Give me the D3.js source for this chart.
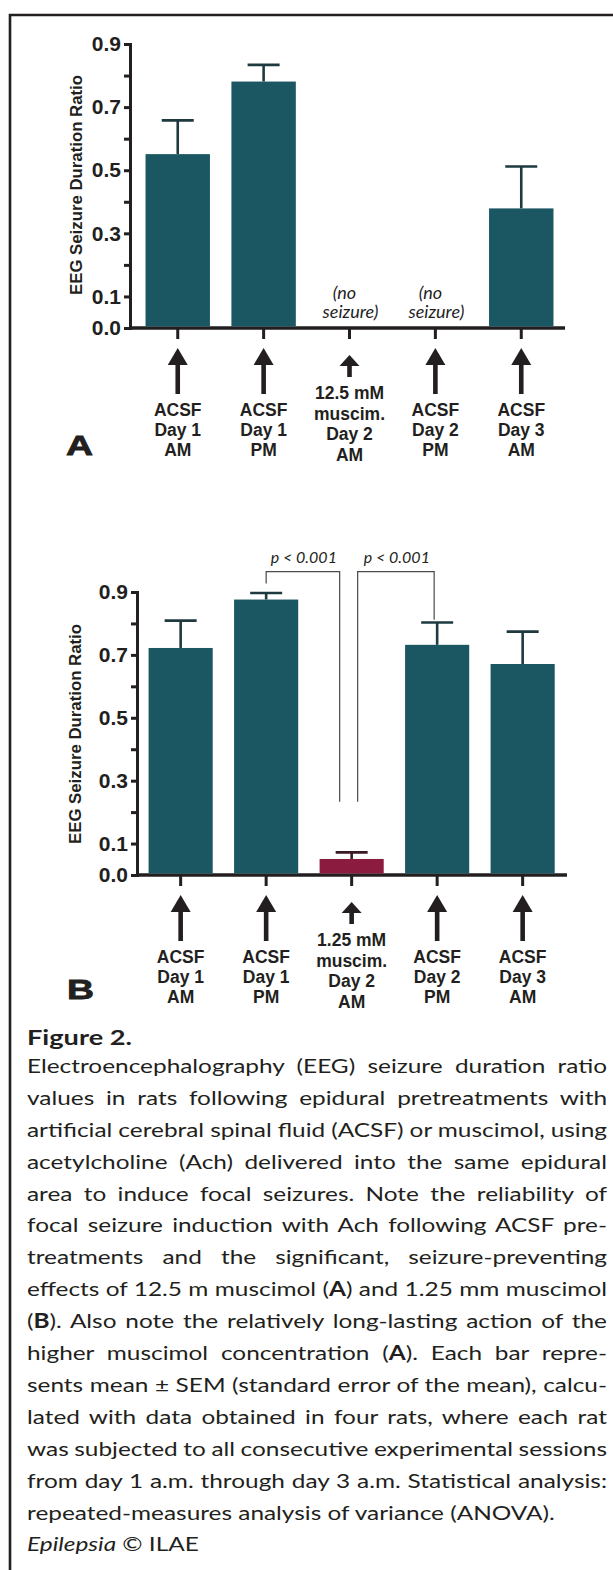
<!DOCTYPE html>
<html>
<head>
<meta charset="utf-8">
<script src="https://cdn.jsdelivr.net/npm/d3@7"></script>
<style>
  html, body { margin: 0; padding: 0; background: #fff; }
  svg { display: block; }
</style>
</head>
<body>
<svg id="fig" width="613" height="1570"></svg>
<script>
// ---- data ----
const sessionLabelsA = [
  ["ACSF", "Day 1", "AM"],
  ["ACSF", "Day 1", "PM"],
  ["12.5 mM", "muscim.", "Day 2", "AM"],
  ["ACSF", "Day 2", "PM"],
  ["ACSF", "Day 3", "AM"]
];
const sessionLabelsB = [
  ["ACSF", "Day 1", "AM"],
  ["ACSF", "Day 1", "PM"],
  ["1.25 mM", "muscim.", "Day 2", "AM"],
  ["ACSF", "Day 2", "PM"],
  ["ACSF", "Day 3", "AM"]
];
const muscimolSession = 2;

// mean and SEM (null = no seizure)
const meanA = [0.551, 0.781, null, null, 0.379];
const semA  = [0.107, 0.053, null, null, 0.133];
const meanB = [0.722, 0.876, 0.051, 0.732, 0.671];
const semB  = [0.087, 0.021, 0.021, 0.071, 0.103];

const yTickValues = [0, 0.1, 0.2, 0.3, 0.4, 0.5, 0.6, 0.7, 0.8, 0.9];
const yTickLabels = ["0.0", "0.1", "", "0.3", "", "0.5", "", "0.7", "", "0.9"];

// significance brackets in panel B
const comparisonsB = [
  { from: 1, to: 2, label: "p < 0.001" },
  { from: 2, to: 3, label: "p < 0.001" }
];

const yLabel = "EEG Seizure Duration Ratio";
const noSeizureText = ["(no", "seizure)"];

const captionTitle = "Figure 2.";
const captionLines = [
  "Electroencephalography (EEG) seizure duration ratio",
  "values in rats following epidural pretreatments with",
  "artificial cerebral spinal fluid (ACSF) or muscimol, using",
  "acetylcholine (Ach) delivered into the same epidural",
  "area to induce focal seizures. Note the reliability of",
  "focal seizure induction with Ach following ACSF pre-",
  "treatments and the significant, seizure-preventing",
  "effects of 12.5 m muscimol (*A*) and 1.25 mm muscimol",
  "(*B*). Also note the relatively long-lasting action of the",
  "higher muscimol concentration (*A*). Each bar repre-",
  "sents mean ± SEM (standard error of the mean), calcu-",
  "lated with data obtained in four rats, where each rat",
  "was subjected to all consecutive experimental sessions",
  "from day 1 a.m. through day 3 a.m. Statistical analysis:",
  "repeated-measures analysis of variance (ANOVA)."
];

// ---- styles ----
const ink = "#231f20";
const teal = "#1b5762";
const crimson = "#8c1b40";
const boldFont = "'Liberation Sans', Arial, sans-serif";
const textFont = "Lato, 'Open Sans', sans-serif";

const svg = d3.select("#fig");

// frame (open at right / bottom like the crop)
svg.append("path")
  .attr("d", "M613,15H10V1570")
  .attr("fill", "none")
  .attr("stroke", ink)
  .attr("stroke-width", 2.6);

function drawPanel(cfg) {
  const g = svg.append("g");

  const y = d3.scaleLinear().domain([0, 0.9]).range([cfg.y0, cfg.y09]);
  const x = d3.scaleBand()
    .domain(d3.range(cfg.mean.length))
    .range(cfg.band)
    .paddingInner(0.25)
    .paddingOuter(0.125);
  const bw = x.bandwidth();
  const cx = i => x(i) + bw / 2;

  // y axis
  const yAxis = g.append("g")
    .attr("transform", `translate(${cfg.axisX},0)`)
    .call(d3.axisLeft(y)
      .tickValues(yTickValues)
      .tickFormat((d, i) => yTickLabels[i])
      .tickSize(6)
      .tickSizeOuter(0)
      .tickPadding(3));
  yAxis.select(".domain").attr("stroke", ink).attr("stroke-width", 3).attr("stroke-linecap", "square");
  yAxis.selectAll(".tick line").attr("stroke", ink).attr("stroke-width", 3);
  yAxis.selectAll(".tick text")
    .attr("fill", ink)
    .style("font-family", boldFont)
    .style("font-weight", "bold")
    .style("font-size", "21px");

  // x axis baseline + ticks
  g.append("line")
    .attr("x1", cfg.axisX).attr("x2", cfg.axisEnd)
    .attr("y1", cfg.y0).attr("y2", cfg.y0)
    .attr("stroke", ink).attr("stroke-width", 3.5);
  const xAxis = g.append("g")
    .attr("transform", `translate(0,${cfg.y0})`)
    .call(d3.axisBottom(x).tickSize(11).tickFormat(""));
  xAxis.select(".domain").remove();
  xAxis.selectAll(".tick line").attr("stroke", ink).attr("stroke-width", 3);

  // y label
  g.append("text")
    .attr("transform", `translate(${cfg.ylabelX},${cfg.ylabelY}) rotate(-90)`)
    .attr("text-anchor", "middle")
    .attr("textLength", 220)
    .attr("lengthAdjust", "spacingAndGlyphs")
    .attr("fill", ink)
    .style("font-family", boldFont)
    .style("font-weight", "bold")
    .style("font-size", "16.5px")
    .text(yLabel);

  const data = cfg.mean.map((m, i) => ({ i, m, s: cfg.sem[i] }));
  const present = data.filter(d => d.m !== null);
  const errColor = d => d.i === muscimolSession && cfg.colorMuscimol ? "#3a1a24" : "#1e3a3f";

  // error bars (drawn under bars so the stem starts at the bar top)
  const eb = g.selectAll(".err").data(present).enter().append("g").attr("class", "err");
  eb.append("line")
    .attr("x1", d => cx(d.i)).attr("x2", d => cx(d.i))
    .attr("y1", d => y(d.m)).attr("y2", d => y(d.m + d.s))
    .attr("stroke", errColor)
    .attr("stroke-width", 2.6);
  eb.append("line")
    .attr("x1", d => cx(d.i) - 16).attr("x2", d => cx(d.i) + 16)
    .attr("y1", d => y(d.m + d.s)).attr("y2", d => y(d.m + d.s))
    .attr("stroke", errColor)
    .attr("stroke-width", 2.6);

  // bars
  g.selectAll(".bar").data(present).enter().append("rect")
    .attr("class", "bar")
    .attr("x", d => x(d.i))
    .attr("y", d => y(d.m))
    .attr("width", bw)
    .attr("height", d => cfg.y0 - y(d.m) - 1.5)
    .attr("fill", d => d.i === muscimolSession && cfg.colorMuscimol ? crimson : teal);

  // no seizure notes
  data.filter(d => d.m === null).forEach(d => {
    noSeizureText.forEach((t, k) => {
      g.append("text")
        .attr("x", cx(d.i) + (k === 0 ? -5 : 1))
        .attr("y", cfg.y0 - 29 + k * 19)
        .attr("text-anchor", "middle")
        .attr("fill", "#1f1f1f")
        .style("font-family", textFont)
        .style("font-style", "italic")
        .style("font-size", "18px")
        .text(t);
    });
  });

  // arrows + session labels
  cfg.labels.forEach((lines, i) => {
    const c = cx(i);
    const mid = i === muscimolSession;
    const top = cfg.y0 + (mid ? 27 : 20);
    const base = cfg.y0 + (mid ? 38 : 37);
    const bottom = cfg.y0 + (mid ? 49 : 66);
    g.append("rect")
      .attr("x", c - 2.3).attr("y", base - 1)
      .attr("width", 4.6).attr("height", bottom - base + 1)
      .attr("fill", ink);
    g.append("path")
      .attr("d", `M${c - 10},${base}L${c},${top}L${c + 10},${base}Z`)
      .attr("fill", ink);
    const first = cfg.y0 + (mid ? 71 : 88);
    const step = mid ? 20.5 : 20;
    lines.forEach((t, k) => {
      g.append("text")
        .attr("x", c)
        .attr("y", first + k * step)
        .attr("text-anchor", "middle")
        .attr("fill", ink)
        .style("font-family", boldFont)
        .style("font-weight", "bold")
        .style("font-size", "17.5px")
        .text(t);
    });
  });

  // panel letter
  g.append("text")
    .attr("x", cfg.letterX)
    .attr("y", cfg.letterBase)
    .attr("textLength", 27)
    .attr("lengthAdjust", "spacingAndGlyphs")
    .attr("fill", ink)
    .attr("stroke", ink)
    .attr("stroke-width", 0.8)
    .style("font-family", boldFont)
    .style("font-weight", "900")
    .style("font-size", "27px")
    .text(cfg.letter);

  // significance brackets
  if (cfg.comparisons) {
    const topY = y(0.965);
    const c1 = cfg.comparisons[0], c2 = cfg.comparisons[1];
    const legs = [
      { x1: cx(c1.from), v1: cfg.mean[c1.from] + cfg.sem[c1.from] + 0.03, x2: cx(c1.to) - 12, v2: 0.233, label: c1.label },
      { x1: cx(c2.from) + 6, v1: 0.233, x2: cx(c2.to) - 3, v2: cfg.mean[c2.to] + cfg.sem[c2.to] + 0.009, label: c2.label }
    ];
    legs.forEach(b => {
      g.append("path")
        .attr("d", `M${b.x1},${y(b.v1)}V${topY}H${b.x2}V${y(b.v2)}`)
        .attr("fill", "none")
        .attr("stroke", "#4a4a4a")
        .attr("stroke-width", 1.2);
      g.append("text")
        .attr("x", (b.x1 + b.x2) / 2 + 1)
        .attr("y", topY - 9)
        .attr("text-anchor", "middle")
        .attr("fill", ink)
        .style("font-family", textFont)
        .style("font-style", "italic")
        .style("font-size", "16px")
        .text(b.label);
    });
  }
}

drawPanel({
  mean: meanA, sem: semA, labels: sessionLabelsA, letter: "A",
  y0: 328, y09: 44, axisX: 130, band: [134.8, 564.2], axisEnd: 565,
  letterX: 66, letterBase: 455, ylabelX: 82, ylabelY: 185,
  colorMuscimol: false
});
drawPanel({
  mean: meanB, sem: semB, labels: sessionLabelsB, letter: "B",
  y0: 875, y09: 592, axisX: 137, band: [137.9, 565.4], axisEnd: 567,
  letterX: 67, letterBase: 999, ylabelX: 81, ylabelY: 734,
  colorMuscimol: true, comparisons: comparisonsB
});

// ---- caption ----
svg.append("text")
  .attr("x", 27).attr("y", 1045)
  .attr("textLength", 105)
  .attr("lengthAdjust", "spacingAndGlyphs")
  .attr("fill", ink)
  .style("font-family", textFont)
  .style("font-weight", "bold")
  .style("font-size", "21px")
  .text(captionTitle);

const cap = svg.append("g");
const capLeft = 27, capRight = 607, capTop = 1073, capStep = 31.9;

function addLine(str, yPos) {
  const t = cap.append("text")
    .attr("x", 0).attr("y", yPos)
    .attr("fill", ink)
    .style("font-family", textFont)
    .style("font-size", "20px");
  str.split("*").forEach((part, k) => {
    if (!part) return;
    t.append("tspan").style("font-weight", k % 2 ? "bold" : null).text(part);
  });
  return t;
}

const nodes = captionLines.map((s, i) => addLine(s, capTop + i * capStep));
// horizontal scale chosen so the last paragraph line matches the width in the figure
const lastLen = nodes[nodes.length - 1].node().getComputedTextLength();
const sx = 528 / lastLen;
cap.attr("transform", `translate(${capLeft},0) scale(${sx},1)`);
const target = (capRight - capLeft) / sx;
nodes.slice(0, -1).forEach((t, i) => {
  const len = t.node().getComputedTextLength();
  const spaces = (captionLines[i].match(/ /g) || []).length;
  if (spaces) t.attr("word-spacing", (target - len) / spaces);
});

const lastY = capTop + captionLines.length * capStep;
const epi = cap.append("text")
  .attr("x", 0).attr("y", lastY)
  .attr("fill", ink)
  .style("font-family", textFont)
  .style("font-size", "20px");
epi.append("tspan").style("font-style", "italic").text("Epilepsia");
epi.append("tspan").text(" © ILAE");
</script>
</body>
</html>
